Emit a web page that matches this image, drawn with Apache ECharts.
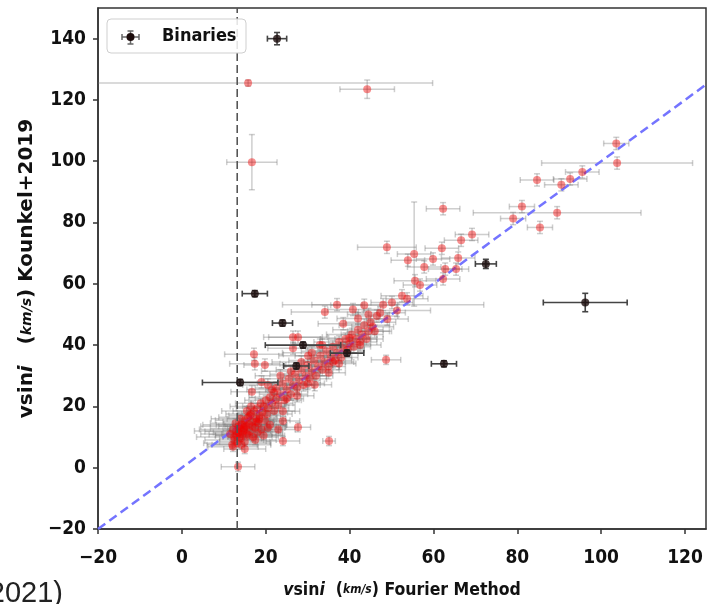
<!DOCTYPE html>
<html>
<head>
<meta charset="utf-8">
<script src="https://cdn.jsdelivr.net/npm/echarts@6/dist/echarts.min.js"></script>
<style>html,body{margin:0;padding:0;background:#fff;}#c{width:709px;height:604px;}</style>
</head>
<body>
<div id="c"></div>
<script>
// ---- Data ----
const xTicks = [-20, 0, 20, 40, 60, 80, 100, 120];
const yTicks = [-20, 0, 20, 40, 60, 80, 100, 120, 140];

// Red points: vsini Fourier (x), vsini Kounkel+2019 (y), and their errors
const redX = [12.0,12.5,13.0,13.2,13.5,13.8,14.0,14.2,14.5,14.8,15.0,15.0,15.3,15.5,15.8,16.0,16.2,16.5,16.8,17.0,
  17.2,17.5,17.8,18.0,18.2,18.5,18.8,19.0,19.2,19.5,19.8,20.0,20.3,20.5,21.0,21.0,21.5,22.0,22.0,22.5,
  11.5,12.2,12.8,12.2,14.0,15.5,16.5,15.0,17.5,18.0,19.5,20.5,13.5,14.5,16.0,13.0,15.0,12.5,16.8,14.2,
  17.8,16.2,18.5,14.8,13.8,
  24.1,24.1,24.1,27.7,35.1,13.4,23.0,
  22.5,23.0,23.5,24.0,24.5,25.0,25.5,26.0,26.5,27.0,27.5,28.0,28.5,29.0,29.5,30.0,30.5,31.0,31.5,32.0,
  32.5,33.0,33.5,34.0,34.5,35.0,35.5,36.0,36.5,37.0,37.5,38.0,38.5,39.0,39.5,40.0,40.5,41.0,41.5,42.0,
  42.5,43.0,43.5,44.0,44.5,45.0,26.0,28.5,31.0,33.5,21.5,23.5,35.0,37.5,30.0,27.5,25.0,20.5,
  37.0,34.1,40.8,42.0,26.5,27.7,26.5,30.1,17.2,17.4,19.8,36.0,19.0,16.7,31.7,32.9,42.5,40.0,48.7,
  45.5,46.5,47.3,48.0,50.1,51.3,52.5,53.7,55.6,56.8,53.9,57.8,59.9,62.3,62.8,65.4,65.9,62.0,66.6,69.2,
  55.4,48.9,62.3,44.5,46.0,49.0,38.5,43.5,
  79.0,81.1,85.4,89.5,84.7,90.5,92.6,95.5,103.6,103.8,15.8,44.2,16.7];
const redY = [7.5,9.0,10.5,8.0,11.5,12.8,9.5,14.0,10.8,12.2,8.5,15.5,13.5,11.0,16.5,14.2,12.0,17.5,15.0,10.0,
  18.5,13.0,16.0,19.5,14.5,17.0,21.0,12.5,18.0,20.0,15.5,22.0,17.5,19.5,23.0,14.0,21.0,24.5,18.5,22.5,
  11.0,12.5,14.5,6.8,16.0,18.5,20.0,6.1,9.0,11.5,10.5,13.0,13.5,11.8,10.5,12.0,14.0,10.0,13.5,7.5,
  15.0,17.0,15.8,13.0,10.0,
  8.7,15.2,18.4,13.2,8.7,0.3,12.5,
  26.0,20.5,24.0,27.5,22.0,25.5,29.0,24.0,27.0,30.5,26.0,28.5,32.0,27.0,30.0,33.5,29.0,31.5,35.0,30.0,
  33.0,36.5,32.0,34.5,38.0,33.0,36.0,39.5,35.0,37.5,41.0,36.0,39.0,42.0,38.5,40.5,43.5,39.5,42.0,45.0,
  41.0,43.5,46.5,42.0,44.5,47.5,31.5,34.5,37.5,40.0,25.5,30.0,31.0,34.0,27.5,23.5,22.5,27.0,
  53.2,50.8,51.6,48.7,42.6,42.6,39.0,36.5,37.0,33.9,33.5,34.5,28.0,24.8,27.1,40.0,40.0,42.3,35.2,
  46.0,49.5,50.6,53.2,53.9,51.3,56.1,55.1,61.0,59.6,67.7,65.5,68.1,61.6,64.8,64.8,68.4,71.6,74.2,76.1,
  69.7,71.9,84.5,50.0,44.5,48.5,47.0,53.0,
  81.3,85.2,78.4,83.2,93.9,92.3,94.2,96.5,105.8,99.4,125.5,123.5,99.7];
const redXErr = [6,7,5,8,6,7,5,6,8,5,6,7,5,6,7,6,5,6,7,6,
  5,6,7,5,6,5,6,5,6,5,6,5,6,5,5,4,5,6,5,5,
  7,8,6,6,7,6,5,5,5,6,5,4,9,9,8,10,10,9,8,7,
  4,5,4,4,4,
  4,4,4,3,1.5,4,4,
  5,4,5,6,4,5,6,4,5,6,4,5,6,4,5,6,4,5,6,4,
  5,6,4,5,6,4,5,6,4,5,6,4,5,6,4,5,6,4,5,6,
  4,5,6,4,5,6,7,7,7,7,6,6,4,4,4,4,4,6,
  6,8,6,5,7,7,6,7,7,6,5,5,5,5,4,6,5,5,3.5,
  5,5,6,24,5,8,5,5,5,4,4,4,4,4,4,3,4,4,4,4,
  4,7,4,5,4,5,6,8,
  3,3,3,20,4,4,4,4,3,18,44,6.5,6];
const redYErr = [1.5,1.5,1.5,1.5,1.5,1.5,1.5,1.5,1.5,1.5,1.5,1.5,1.5,1.5,1.5,1.5,1.5,1.5,1.5,1.5,
  1.5,1.5,1.5,1.5,1.5,1.5,1.5,1.5,1.5,1.5,1.5,1.5,1.5,1.5,1.5,1.5,1.5,1.5,1.5,1.5,
  1.5,1.5,1.5,1.5,1.5,1.5,1.5,1.5,1.5,1.5,1.5,1.5,1.5,1.5,1.5,1.5,1.5,1.5,1.5,1.5,
  1.5,1.5,1.5,1.5,1.5,
  1.5,1.5,1.5,1.5,1.5,1.5,1.5,
  2,2,2,2,2,2,2,2,2,2,2,2,2,2,2,2,2,2,2,2,
  2,2,2,2,2,2,2,2,2,2,2,2,2,2,2,2,2,2,2,2,
  2,2,2,2,2,2,2,2,2,2,2,2,2,2,2,2,2,2,
  2,2,2,2,2,2,2,2,2,2,2,2,2,2,2,2,2,2,1.5,
  2,2,2,2,2,2,2,2,2,2,2,2,2,2,2,2,2,2,2,2,
  17,2,2,2,2,2,2,2,
  2,2,2,2,2,2,2,2,2,2,1,3,9];

// Binaries (black points)
const binX = [22.7,17.4,24.0,28.9,27.3,39.4,13.9,72.5,96.2,62.5];
const binY = [140.0,56.8,47.2,40.0,33.2,37.4,27.8,66.5,53.9,33.9];
const binXErr = [2.3,3,2.4,9,3,4,9,2.5,10,3];
const binYErr = [2,1,1,1,1,1,1,1.5,3,1];

// Reference lines
const oneToOne = [[-20,-20],[125,125]];
const cutoffX = 13.2;

// ---- Build chart ----
const FONT = "'DejaVu Sans Condensed', 'DejaVu Sans', sans-serif";
const FONT_WIDE = "'DejaVu Sans', sans-serif";
const rows = (xs, ys, xe, ye) => xs.map((v, i) => [v, ys[i], xe[i], ye[i]]);
const redRows = rows(redX, redY, redXErr, redYErr);
const binRows = rows(binX, binY, binXErr, binYErr);
const X0 = -20, X1 = 125, Y0 = -20, Y1 = 150;

function errRender(color, width, cap) {
  return function (params, api) {
    const x = api.value(0), y = api.value(1), xe = api.value(2), ye = api.value(3);
    const style = { stroke: color, lineWidth: width, fill: null };
    const ch = [];
    const lx = Math.max(x - xe, X0), rx = Math.min(x + xe, X1);
    const by = Math.max(y - ye, Y0), ty = Math.min(y + ye, Y1);
    const pL = api.coord([lx, y]), pR = api.coord([rx, y]);
    const pB = api.coord([x, by]), pT = api.coord([x, ty]);
    ch.push({ type: 'line', shape: { x1: pL[0], y1: pL[1], x2: pR[0], y2: pR[1] }, style });
    ch.push({ type: 'line', shape: { x1: pB[0], y1: pB[1], x2: pT[0], y2: pT[1] }, style });
    if (x - xe >= X0) ch.push({ type: 'line', shape: { x1: pL[0], y1: pL[1] - cap, x2: pL[0], y2: pL[1] + cap }, style });
    if (x + xe <= X1) ch.push({ type: 'line', shape: { x1: pR[0], y1: pR[1] - cap, x2: pR[0], y2: pR[1] + cap }, style });
    if (y - ye >= Y0) ch.push({ type: 'line', shape: { x1: pB[0] - cap, y1: pB[1], x2: pB[0] + cap, y2: pB[1] }, style });
    if (y + ye <= Y1) ch.push({ type: 'line', shape: { x1: pT[0] - cap, y1: pT[1], x2: pT[0] + cap, y2: pT[1] }, style });
    return { type: 'group', children: ch };
  };
}

const minus = v => String(v).replace('-', '\u2212');
const axisLabelStyle = { fontSize: 19, fontWeight: 'bold', fontFamily: FONT, color: '#111' };
const richX = {
  a: { fontSize: 17.5, fontWeight: 'bold', fontFamily: FONT, color: '#111' },
  i: { fontSize: 17.5, fontWeight: 'bold', fontStyle: 'italic', fontFamily: FONT, color: '#111' },
  f: { fontSize: 12, fontWeight: 'bold', fontStyle: 'italic', fontFamily: FONT, color: '#111' }
};
const richY = {
  a: { fontSize: 20, fontWeight: 'bold', fontFamily: FONT_WIDE, color: '#111' },
  i: { fontSize: 20, fontWeight: 'bold', fontStyle: 'italic', fontFamily: FONT_WIDE, color: '#111' },
  f: { fontSize: 14, fontWeight: 'bold', fontStyle: 'italic', fontFamily: FONT_WIDE, color: '#111' }
};

const chart = echarts.init(document.getElementById('c'), null, { renderer: 'canvas' });
chart.setOption({
  animation: false,
  backgroundColor: '#fff',
  grid: { left: 98, right: 3, top: 8, bottom: 68, show: true, borderColor: '#333', borderWidth: 1.5, backgroundColor: 'transparent' },
  xAxis: {
    type: 'value', min: X0, max: X1,
    axisLine: { show: true, onZero: false, lineStyle: { color: '#333', width: 1.5 } },
    axisTick: { show: true, customValues: xTicks, length: 5, lineStyle: { color: '#333', width: 1.5 } },
    axisLabel: Object.assign({ customValues: xTicks, formatter: minus, margin: 20 }, axisLabelStyle),
    splitLine: { show: false },
    name: '{i|v}{a|sin}{i|i}{a|  (}{f|km/s}{a|) Fourier Method}',
    nameLocation: 'middle', nameGap: 52,
    nameTextStyle: { rich: richX }
  },
  yAxis: {
    type: 'value', min: Y0, max: Y1,
    axisLine: { show: true, onZero: false, lineStyle: { color: '#333', width: 1.5 } },
    axisTick: { show: true, customValues: yTicks, length: 5, lineStyle: { color: '#333', width: 1.5 } },
    axisLabel: Object.assign({ customValues: yTicks, formatter: minus, margin: 12 }, axisLabelStyle),
    splitLine: { show: false },
    name: '{a|vsin}{i|i}{a|   (}{f|km/s}{a|) Kounkel+2019}',
    nameLocation: 'middle', nameGap: 50,
    nameTextStyle: { rich: richY }
  },
  graphic: [
    { type: 'rect', z: 100, shape: { x: 107, y: 19, width: 139, height: 34, r: 4 },
      style: { fill: 'rgba(255,255,255,0.85)', stroke: '#cfcfcf', lineWidth: 1 } },
    { type: 'line', z: 101, shape: { x1: 122, y1: 37, x2: 139, y2: 37 }, style: { stroke: '#666', lineWidth: 1.5 } },
    { type: 'line', z: 101, shape: { x1: 130.5, y1: 31, x2: 130.5, y2: 44 }, style: { stroke: '#666', lineWidth: 1.5 } },
    { type: 'line', z: 101, shape: { x1: 122, y1: 34, x2: 122, y2: 40 }, style: { stroke: '#666', lineWidth: 1.5 } },
    { type: 'line', z: 101, shape: { x1: 139, y1: 34, x2: 139, y2: 40 }, style: { stroke: '#666', lineWidth: 1.5 } },
    { type: 'line', z: 101, shape: { x1: 127.5, y1: 31, x2: 133.5, y2: 31 }, style: { stroke: '#666', lineWidth: 1.5 } },
    { type: 'line', z: 101, shape: { x1: 127.5, y1: 44, x2: 133.5, y2: 44 }, style: { stroke: '#666', lineWidth: 1.5 } },
    { type: 'circle', z: 102, shape: { cx: 130.5, cy: 37, r: 4 }, style: { fill: '#1c0c0c' } },
    { type: 'text', z: 102, style: { x: 162, y: 36, text: 'Binaries', fill: '#111', font: "bold 18px " + FONT, verticalAlign: 'middle' } },
    { type: 'text', z: 102, style: { x: 63, y: 579, text: '(2021)', fill: '#222', font: "29px 'Liberation Sans', sans-serif", align: 'right', verticalAlign: 'top' } }
  ],
  series: [
    { type: 'custom', name: 'err', z: 1, silent: true, clip: true,
      renderItem: errRender('rgba(120,120,120,0.36)', 1.5, 3),
      encode: { x: 0, y: 1 }, data: redRows },
    { type: 'line', z: 2, silent: true, symbol: 'none', data: oneToOne,
      lineStyle: { color: '#7474ff', width: 2.5, type: [9, 5] } },
    { type: 'scatter', name: 'Kounkel', z: 3, symbol: 'circle', symbolSize: 8, silent: true,
      itemStyle: { color: 'rgba(238,0,0,0.55)' },
      data: redRows.map(r => [r[0], r[1]]) },
    { type: 'line', z: 4, silent: true, symbol: 'none', data: [[cutoffX, Y0], [cutoffX, Y1]],
      lineStyle: { color: '#555', width: 1.6, type: [8, 4] } },
    { type: 'custom', name: 'binErr', z: 5, silent: true, clip: true,
      renderItem: errRender('#444', 1.6, 3),
      encode: { x: 0, y: 1 }, data: binRows },
    { type: 'scatter', name: 'Binaries', z: 6, symbol: 'circle', symbolSize: 8, silent: true,
      itemStyle: { color: '#1c0c0c' },
      data: binRows.map(r => [r[0], r[1]]) }
  ]
});
</script>
</body>
</html>
